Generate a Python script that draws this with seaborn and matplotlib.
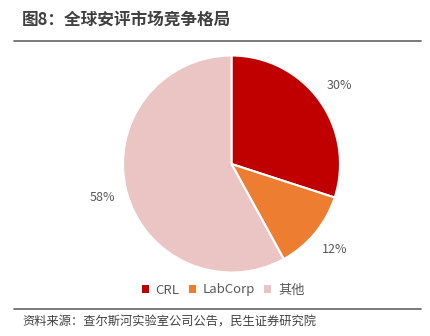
import matplotlib
matplotlib.use("Agg")
import matplotlib.pyplot as plt
import seaborn as sns
from matplotlib.lines import Line2D
from matplotlib.patches import Patch

categories = ["CRL", "LabCorp", "其他"]
shares = [30, 12, 58]
colors = ["#C00000", "#ED7D31", "#EBC4C4"]
title = "图8：全球安评市场竞争格局"
source = "资料来源：查尔斯河实验室公司公告，民生证券研究院"

sns.set_theme(style="white")
plt.rcParams['font.family'] = ['Noto Sans CJK SC', 'DejaVu Sans']

W, H = 431, 336
fig = plt.figure(figsize=(W/100, H/100), dpi=100)
fig.patch.set_facecolor("white")

# pie axes: center (231.5,164), radius 108.5
r = 108.5
cx, cy = 231.5, 164
ax = fig.add_axes([(cx - r)/W, 1 - (cy + r)/H, 2*r/W, 2*r/H])
wedges, texts, autotexts = ax.pie(
    shares, colors=colors, startangle=90, counterclock=False,
    autopct=lambda p: f"{p:.0f}%", pctdistance=1.23, radius=1,
    wedgeprops=dict(edgecolor="white", linewidth=1.5),
    textprops=dict(color="#595959", fontsize=9))
ax.set_xlim(-1, 1)
ax.set_ylim(-1, 1)
ax.set_aspect("equal")
ax.axis("off")

# title
fig.text(22/W, 1 - 20/H, title, fontsize=12, fontweight="bold", color="#404040",
         va="center", ha="left")
fig.add_artist(Line2D([14/W, 421/W], [1 - 40.5/H, 1 - 40.5/H], color="#707070", lw=1.3))

# legend
handles = [Patch(facecolor=c, edgecolor="none") for c in colors]
leg = fig.legend(handles, categories, loc="center", bbox_to_anchor=(223/W, 1 - 290/H),
                 ncol=3, frameon=False, fontsize=9.5, handlelength=0.55, handleheight=0.55,
                 columnspacing=0.7, handletextpad=0.5)
for t in leg.get_texts():
    t.set_color("#595959")

# source
fig.add_artist(Line2D([14/W, 421/W], [1 - 309/H, 1 - 309/H], color="#707070", lw=1.3))
fig.text(22/W, 1 - 322/H, source, fontsize=8.8, color="#404040", va="center", ha="left")

fig.savefig("out.png", dpi=100, facecolor="white")
